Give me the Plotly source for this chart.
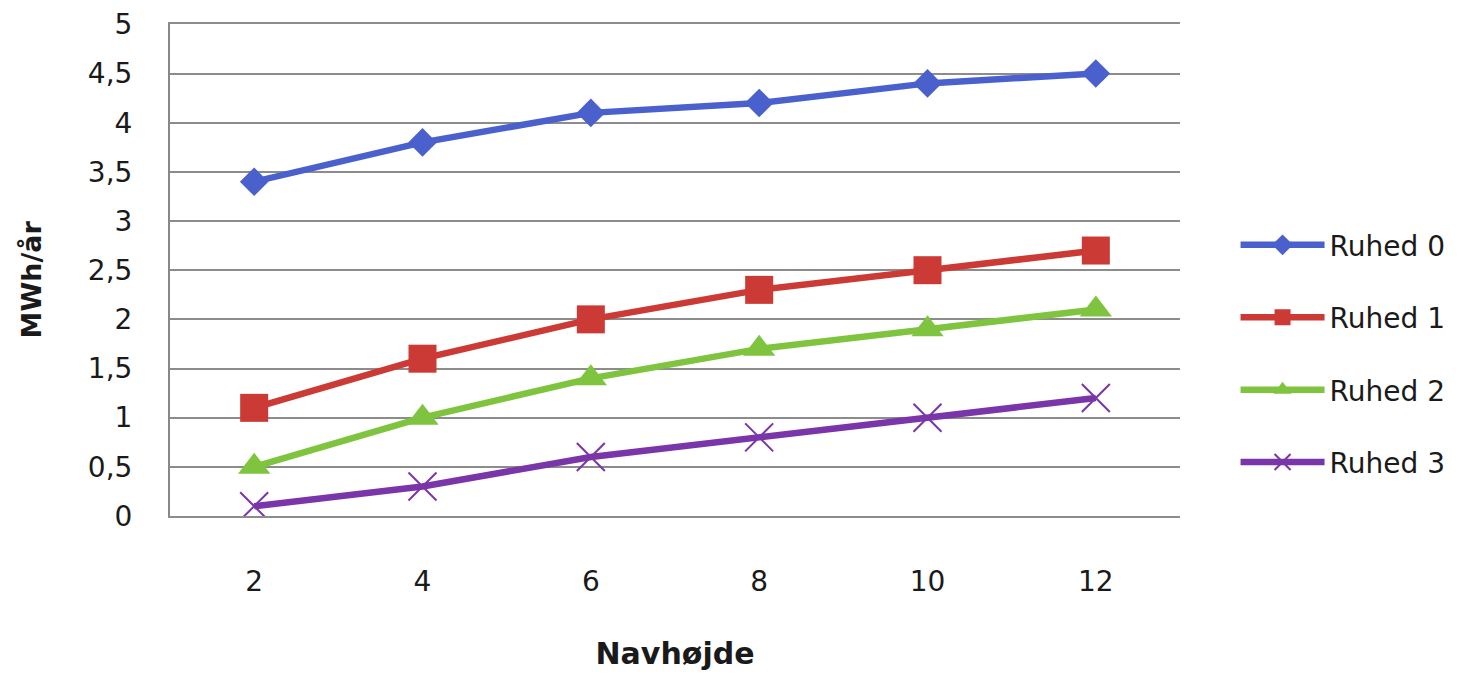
import plotly.graph_objects as go

navhojde = ["2", "4", "6", "8", "10", "12"]
ruhed0 = [3.4, 3.8, 4.1, 4.2, 4.4, 4.5]
ruhed1 = [1.1, 1.6, 2.0, 2.3, 2.5, 2.7]
ruhed2 = [0.5, 1.0, 1.4, 1.7, 1.9, 2.1]
ruhed3 = [0.1, 0.3, 0.6, 0.8, 1.0, 1.2]
names = ["Ruhed 0", "Ruhed 1", "Ruhed 2", "Ruhed 3"]
y_ticks = [0, 0.5, 1, 1.5, 2, 2.5, 3, 3.5, 4, 4.5, 5]

colors = ["#4A60CC", "#CC3A35", "#7FC43E", "#7A35A8"]
symbols = ["diamond", "square", "triangle-up", "x-thin-open"]
sizes = [22, 28, 28, 28]

fig = go.Figure()
for i, (nm, vals) in enumerate(zip(names, [ruhed0, ruhed1, ruhed2, ruhed3])):
    marker = dict(symbol=symbols[i], size=sizes[i], color=colors[i])
    if symbols[i] == "x-thin-open":
        marker["line"] = dict(color="#9B7FC4", width=2)
    fig.add_trace(go.Scatter(
        x=navhojde, y=vals, name=nm, mode="lines+markers",
        line=dict(color=colors[i], width=6.5),
        marker=marker, legendgroup=nm,
    ))

font_family = "'DejaVu Sans', sans-serif"
fig.update_layout(
    width=1462, height=675,
    margin=dict(l=162, r=290, t=16, b=167),
    paper_bgcolor="white", plot_bgcolor="white",
    separators=", ",
    font=dict(family=font_family, size=28, color="#1a1a1a"),
    showlegend=True,
    legend=dict(x=1.055, y=0.33, xanchor="left", yanchor="middle",
                font=dict(size=28, color="#1a1a1a"), tracegroupgap=33,
                itemwidth=84, bgcolor="rgba(0,0,0,0)"),
    xaxis=dict(type="category", range=[-0.5, len(navhojde) - 0.5],
               showgrid=False, showline=True, mirror=True,
               linecolor="#8c8c8c", linewidth=2, ticks="", automargin=False,
               tickfont=dict(size=28), ticklabelstandoff=39,
               title=dict(text="<b>Navhøjde</b>", font=dict(size=30), standoff=46)),
    yaxis=dict(range=[0, 5.004], tickvals=y_ticks, showgrid=True,
               gridcolor="#8c8c8c", gridwidth=2, showline=True,
               linecolor="#888", linewidth=2, ticks="", zeroline=False,
               automargin=False,
               tickfont=dict(size=28), ticklabelstandoff=30),
    annotations=[dict(text="<b>MWh/år</b>", textangle=-90, showarrow=False,
                      xref="paper", yref="paper", x=-0.137, y=0.48,
                      xanchor="center", yanchor="middle",
                      font=dict(size=27, color="#1a1a1a"))],
)

fig.write_html("out.html")
